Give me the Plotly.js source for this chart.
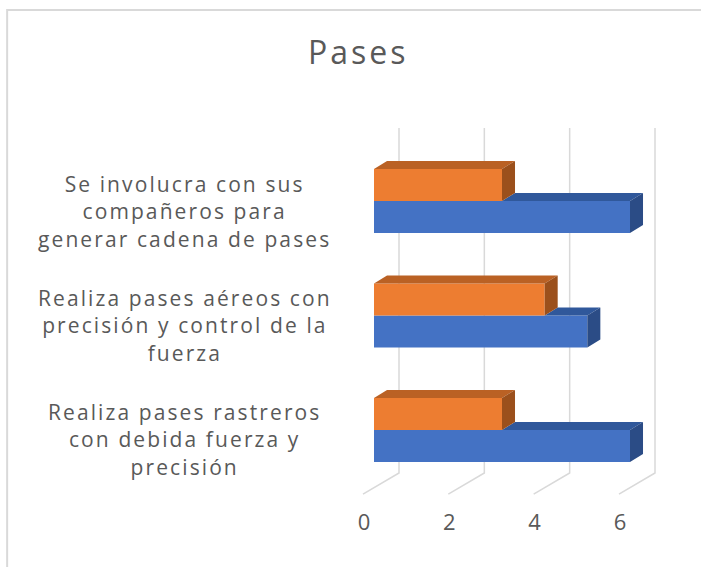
<!DOCTYPE html>
<html>
<head>
<meta charset="utf-8">
<script src="https://cdn.plot.ly/plotly-3.0.1.min.js"></script>
<style>
  html, body { margin: 0; padding: 0; background: #fff; }
  #chart { width: 701px; height: 567px; }
  .annotation-text { letter-spacing: 2.1px; }
  .gtitle { letter-spacing: 3px; }
</style>
</head>
<body>
<div id="chart"></div>
<script>
// ---- data ----
var categories = [
  "Realiza pases rastreros<br>con debida fuerza y<br>precisión",
  "Realiza pases aéreos con<br>precisión y control de la<br>fuerza",
  "Se involucra con sus<br>compañeros para<br>generar cadena de pases"
];
var seriesBlue = [6, 5, 6];
var seriesOrange = [3, 4, 3];
var tickValues = [0, 2, 4, 6];
var tickLabels = ["0", "2", "4", "6"];

// ---- style / geometry ----
var colBlue = "#4472C4", colBlueTop = "#30589B", colBlueSide = "#2B4C86";
var colOrange = "#ED7D31", colOrangeTop = "#BA6124", colOrangeSide = "#9B501C";
var w = 0.2795;     // bar thickness (category units)
var dx = 0.305;     // 3D depth in x units
var dy = 0.07;      // 3D depth in y units
var gridDx = 0.586; // back wall offset
var floorDx = -0.258; // front floor offset
var floorY = -0.061;  // front floor in paper

var pos = categories.map(function (c, i) { return i; });

function faces(kind) {
  var xs = [], ys = [];
  pos.forEach(function (c, i) {
    var vb = seriesBlue[i], vo = seriesOrange[i], pts;
    if (kind === "blueTop") {
      var s = Math.min(vo, vb);
      pts = [[s, c], [s + dx, c + dy], [vb + dx, c + dy], [vb, c]];
    } else if (kind === "blueSide") {
      pts = [[vb, c - w], [vb, c], [vb + dx, c + dy], [vb + dx, c - w + dy]];
    } else if (kind === "orangeTop") {
      pts = [[0, c + w], [dx, c + w + dy], [vo + dx, c + w + dy], [vo, c + w]];
    } else {
      pts = [[vo, c], [vo, c + w], [vo + dx, c + w + dy], [vo + dx, c + dy]];
    }
    pts.forEach(function (p) { xs.push(p[0]); ys.push(p[1]); });
    xs.push(pts[0][0]); ys.push(pts[0][1]);
    xs.push(null); ys.push(null);
  });
  return { x: xs, y: ys };
}

function faceTrace(kind, color) {
  var f = faces(kind);
  return {
    type: "scatter", mode: "lines", x: f.x, y: f.y,
    fill: "toself", fillcolor: color, line: { width: 0, color: color },
    hoverinfo: "skip", showlegend: false
  };
}

var traces = [
  { type: "bar", orientation: "h", x: seriesBlue, y: pos, width: w, offset: -w,
    marker: { color: colBlue, line: { width: 0 } }, hoverinfo: "x", showlegend: false },
  { type: "bar", orientation: "h", x: seriesOrange, y: pos, width: w, offset: 0,
    marker: { color: colOrange, line: { width: 0 } }, hoverinfo: "x", showlegend: false },
  faceTrace("blueTop", colBlueTop),
  faceTrace("blueSide", colBlueSide),
  faceTrace("orangeTop", colOrangeTop),
  faceTrace("orangeSide", colOrangeSide)
];

var shapes = tickValues.map(function (v) {
  return {
    type: "path", xref: "x", yref: "paper", layer: "below",
    path: "M" + (v + gridDx) + ",1 L" + (v + gridDx) + ",0 L" + (v + floorDx) + "," + floorY,
    line: { color: "#D9D9D9", width: 1.5 }
  };
});
shapes.push({
  type: "rect", xref: "paper", yref: "paper", layer: "below",
  x0: -0.979, x1: 1.1, y0: -0.35, y1: 1.342,
  line: { color: "#D9D9D9", width: 2 }, fillcolor: "rgba(0,0,0,0)"
});

var annotations = categories.map(function (c, i) {
  return {
    xref: "paper", yref: "y", x: -0.456, y: pos[i], yshift: -10,
    text: c, showarrow: false, align: "center", xanchor: "center", yanchor: "middle",
    font: { family: "Open Sans, sans-serif", size: 21, color: "#595959" }
  };
});

var layout = {
  width: 701, height: 567,
  margin: { l: 340, r: 21, t: 128, b: 94 },
  paper_bgcolor: "#FFFFFF", plot_bgcolor: "rgba(0,0,0,0)",
  showlegend: false, barmode: "overlay",
  title: {
    text: "Pases", x: 0.511, xref: "container", xanchor: "center",
    y: 0.906, yref: "container", yanchor: "middle",
    font: { family: "Open Sans, sans-serif", size: 32, color: "#595959" }
  },
  xaxis: {
    range: [-0.797, 7.172], showgrid: false, zeroline: false, showline: false,
    tickvals: tickValues, ticktext: tickLabels, ticks: "",
    ticklabelshift: -10, ticklabelstandoff: 34,
    tickfont: { family: "Open Sans, sans-serif", size: 22, color: "#595959" },
    fixedrange: true
  },
  yaxis: {
    range: [-0.376, 2.638], showgrid: false, zeroline: false, showline: false,
    showticklabels: false, ticks: "", fixedrange: true
  },
  shapes: shapes,
  annotations: annotations
};

Plotly.newPlot("chart", traces, layout, { displayModeBar: false, staticPlot: true });
</script>
</body>
</html>
